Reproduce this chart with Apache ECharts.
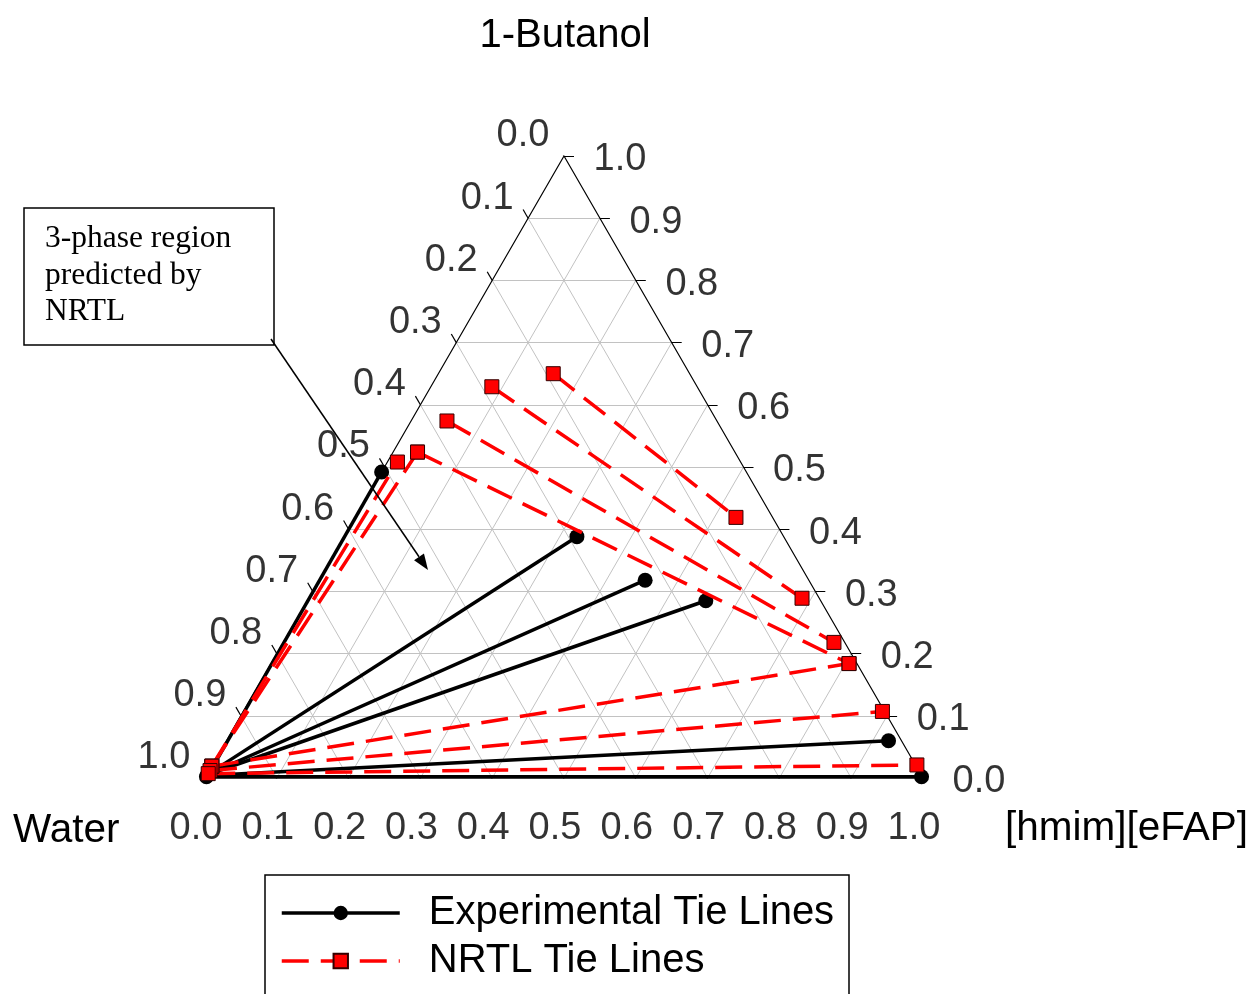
<!DOCTYPE html>
<html><head><meta charset="utf-8">
<script src="https://cdn.jsdelivr.net/npm/echarts@6/dist/echarts.min.js"></script>
<style>html,body{margin:0;padding:0;background:#fff}#c{width:1252px;height:994px}</style>
</head><body><div id="c"></div>
<script>
// ---- data (ternary fractions: [x_IL, x_Butanol]; x_Water = 1 - x_IL - x_Butanol)
const ticks = [0.0,0.1,0.2,0.3,0.4,0.5,0.6,0.7,0.8,0.9,1.0];
const tickLabels = ['0.0','0.1','0.2','0.3','0.4','0.5','0.6','0.7','0.8','0.9','1.0'];
const axisNames = {top:'1-Butanol', left:'Water', right:'[hmim][eFAP]'};
const seriesNames = ['Experimental Tie Lines','NRTL Tie Lines'];
// experimental tie lines: water-rich end and other end
const expPhase1 = [[0.002,0.007],[0.002,0.007],[0.002,0.006],[0.002,0.006],[0.001,0.004],[0.001,0.002]];
const expPhase2 = [[0.000,0.492],[0.324,0.388],[0.454,0.318],[0.555,0.285],[0.922,0.060],[0.997,0.002]];
// NRTL tie lines
const nrtlPhase1 = [[0.000,0.019],[0.000,0.019],[0.034,0.524],[0.000,0.019],[0.050,0.574],[0.085,0.629],[0.160,0.650],[0.001,0.012],[0.001,0.007]];
const nrtlPhase2 = [[0.014,0.508],[0.034,0.524],[0.805,0.184],[0.805,0.184],[0.767,0.218],[0.687,0.289],[0.530,0.419],[0.890,0.107],[0.981,0.021]];
const noteLines = ['3-phase region','predicted by','NRTL'];

// ---- layout
const SQ = Math.sqrt(3)/2;
const GL = 205, GT = 156, GW = 718, GH = 622;
const PX = 1/GW;            // one pixel in data units
const TICK = 10*PX;
const SANS = '"Liberation Sans", Arial, Helvetica, sans-serif';
const SERIF = '"Liberation Serif", "Times New Roman", serif';
const FS = 38, FN = 40, FL = 40;
const DASH = [27,12];
function P(il, bu){ return [il + bu/2, bu*SQ]; }

const gridSegs = [], tickSegs = [];
ticks.forEach(t => {
  if (t > 0 && t < 1) {
    gridSegs.push({coords:[P(0,t), P(1-t,t)]});
    gridSegs.push({coords:[P(t,0), P(t,1-t)]});
    gridSegs.push({coords:[P(1-t,0), P(0,1-t)]});
  }
  const b = P(t,0);
  tickSegs.push({coords:[b, [b[0]-0.5*TICK, b[1]-SQ*TICK]]});
  const l = P(0,1-t);
  tickSegs.push({coords:[l, [l[0]-0.5*TICK, l[1]+SQ*TICK]]});
  const r = P(1-t,t);
  tickSegs.push({coords:[r, [r[0]+TICK, r[1]]]});
});
const outline = [P(0,0),P(1,0),P(0,1),P(0,0)];

function labelSeries(data, offset){
  return {type:'scatter', data, symbolSize:1, itemStyle:{color:'rgba(0,0,0,0)'}, silent:true, clip:false, z:5,
    label:{show:true, position:'inside', offset, formatter:p=>p.value[2], color:'#000', fontSize:FS, fontFamily:SANS, align:'center', verticalAlign:'middle'}};
}
const bottomLab = ticks.map((t,k)=>[...P(t,0), tickLabels[k]]);
const leftLab = ticks.map((t,k)=>[...P(0,1-t), tickLabels[k]]);
const rightLab = ticks.map((t,k)=>[...P(1-t,t), tickLabels[k]]);

const series = [
  {type:'lines', coordinateSystem:'cartesian2d', data:gridSegs, silent:true, z:1, lineStyle:{color:'#c2c2c2', width:1, opacity:1}},
  {type:'line', data:outline, symbol:'none', silent:true, clip:false, z:2, lineStyle:{color:'#000', width:1.2}},
  {type:'lines', coordinateSystem:'cartesian2d', data:tickSegs, silent:true, z:2, lineStyle:{color:'#000', width:1.2, opacity:1}},
  labelSeries(bottomLab, [-9, 51]),
  labelSeries(leftLab, [-41, -20]),
  labelSeries(rightLab, [56, 4])
];
expPhase1.forEach((a,k)=>{
  series.push({type:'line', name:seriesNames[0], data:[P(...a), P(...expPhase2[k])], clip:false, z:3,
    symbol:'circle', symbolSize:15, color:'#000', itemStyle:{color:'#000'}, lineStyle:{color:'#000', width:3.5}, animation:false});
});
nrtlPhase1.forEach((a,k)=>{
  series.push({type:'line', name:seriesNames[1], data:[P(...a), P(...nrtlPhase2[k])], clip:false, z:4,
    symbol:'rect', symbolSize:14, color:'#ff0000', itemStyle:{color:'#ff0000', borderColor:'#300', borderWidth:1},
    lineStyle:{color:'#ff0000', width:3.5, type:DASH}, animation:false});
});

// arrow geometry (annotation)
const A0 = [271,339], A1 = [428,570];
const dx = A1[0]-A0[0], dy = A1[1]-A0[1], len = Math.hypot(dx,dy), ux = dx/len, uy = dy/len;
const HL = 16, HW = 6;
const bx = A1[0]-ux*HL, by = A1[1]-uy*HL;

function legendRow(name, top, dash){
  return {data:[name], orient:'vertical', left:280, top, padding:0, itemWidth:118, itemHeight:18,
    selectedMode:false, z:12,
    lineStyle:{width:3.5, type: dash ? DASH : 'solid'},
    textStyle:{fontSize:FL, lineHeight:40, fontFamily:SANS, color:'#000', padding:[0,0,0,24]}};
}

const chart = echarts.init(document.getElementById('c'), null, {renderer:'canvas'});
chart.setOption({
  animation:false,
  backgroundColor:'#fff',
  grid:{left:GL, top:GT, width:GW, height:GH, containLabel:false},
  xAxis:{type:'value', min:0, max:1, show:false},
  yAxis:{type:'value', min:0, max:SQ, show:false},
  legend:[legendRow(seriesNames[0], 893, false), legendRow(seriesNames[1], 941, true)],
  series,
  graphic:[
    {type:'text', style:{x:565, y:36, text:axisNames.top, font:`${FN}px ${SANS}`, fill:'#000', textAlign:'center', textVerticalAlign:'middle', align:'center', verticalAlign:'middle'}},
    {type:'text', style:{x:13, y:831, text:axisNames.left, font:`${FN+0.5}px ${SANS}`, fill:'#000', textAlign:'left', textVerticalAlign:'middle', align:'left', verticalAlign:'middle'}},
    {type:'text', style:{x:1005, y:829, text:axisNames.right, font:`${FN+0.5}px ${SANS}`, fill:'#000', textAlign:'left', textVerticalAlign:'middle', align:'left', verticalAlign:'middle'}},
    {type:'rect', shape:{x:265, y:875, width:584, height:140}, style:{fill:'#fff', stroke:'#000', lineWidth:1.5}, z:-1},
    {type:'rect', shape:{x:24, y:208, width:250, height:137}, style:{fill:'#fff', stroke:'#000', lineWidth:1.5}, z:10},
    ...noteLines.map((t,k)=>({type:'text', z:11, style:{x:45, y:239+k*36.5, text:t, font:`31.5px ${SERIF}`, fill:'#000', textAlign:'left', textVerticalAlign:'middle', align:'left', verticalAlign:'middle'}})),
    {type:'line', z:11, shape:{x1:A0[0], y1:A0[1], x2:bx, y2:by}, style:{stroke:'#000', lineWidth:1.5}},
    {type:'polygon', z:11, shape:{points:[A1,[bx-uy*HW, by+ux*HW],[bx+uy*HW, by-ux*HW]]}, style:{fill:'#000'}}
  ]
});
</script></body></html>
